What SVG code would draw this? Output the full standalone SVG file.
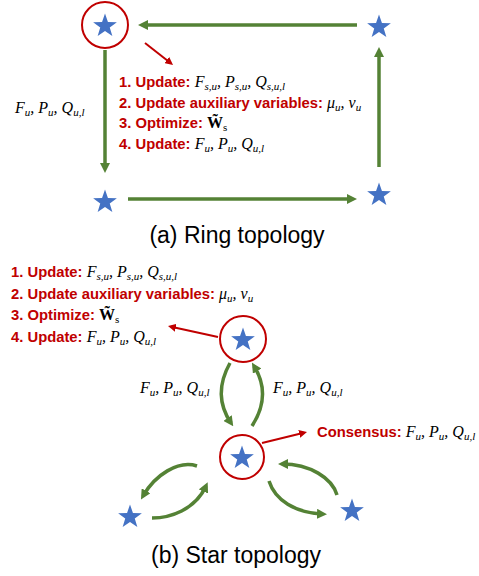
<svg xmlns="http://www.w3.org/2000/svg" xmlns:xlink="http://www.w3.org/1999/xlink" width="479" height="576" viewBox="0 0 479 576">
<style>
.g{fill:none;stroke:#548235;stroke-width:3.5}
.r{fill:none;stroke:#C00000;stroke-width:2}
.ring{fill:none;stroke:#C00000;stroke-width:2}
.star{fill:#4472C4}
.rb{font-family:"Liberation Sans",Arial,sans-serif;font-weight:bold;font-size:14.8px;fill:#C00000}
.mi{font-family:"Liberation Serif","DejaVu Serif",serif;font-style:italic;font-size:16px;fill:#000}
.sb{font-family:"Liberation Serif","DejaVu Serif",serif;font-style:italic;font-size:11px;fill:#000}
.wb{font-family:"Liberation Serif","DejaVu Serif",serif;font-weight:bold;font-size:16px;fill:#000}
.su{font-family:"Liberation Serif","DejaVu Serif",serif;font-size:11px;fill:#000}
.cap{font-family:"Liberation Sans",Arial,sans-serif;font-size:23px;fill:#000}
</style>
<defs>
<path id="st" d="M0,-12.5 L2.94,-4.05 L11.89,-3.86 L4.76,1.55 L7.35,10.11 L0,5 L-7.35,10.11 L-4.76,1.55 L-11.89,-3.86 L-2.94,-4.05 Z"/>
<marker id="ga" viewBox="0 0 10 10" refX="6" refY="5" markerWidth="10" markerHeight="10" markerUnits="userSpaceOnUse" orient="auto">
<path d="M0,0 L10,5 L0,10 Z" fill="#548235"/>
</marker>
<marker id="ra" viewBox="0 0 10 10" refX="6" refY="5" markerWidth="8" markerHeight="8" markerUnits="userSpaceOnUse" orient="auto">
<path d="M0,0 L10,5 L0,10 Z" fill="#C00000"/>
</marker>
</defs>

<!-- (a) Ring topology -->
<g id="ring-n1"><circle class="ring" cx="105" cy="25" r="23"/><use href="#st" x="105" y="26" class="star"/></g>
<g id="ring-n2"><use href="#st" x="379" y="27" class="star"/></g>
<g id="ring-n3"><use href="#st" x="105" y="202" class="star"/></g>
<g id="ring-n4"><use href="#st" x="379" y="195" class="star"/></g>

<g id="ring-connectors">
<path class="g" d="M357,25 L142,25" marker-end="url(#ga)"/>
<path class="g" d="M105,50 L105,169" marker-end="url(#ga)"/>
<path class="g" d="M379,167 L379,51" marker-end="url(#ga)"/>
<path class="g" d="M128,199 L353,199" marker-end="url(#ga)"/>
<path class="r" d="M145,43 L170.5,63" marker-end="url(#ra)"/>
</g>

<g id="ring-text">
<text x="119" y="87"><tspan class="rb">1. Update: </tspan><tspan class="mi">F</tspan><tspan class="sb" dy="3">s,u</tspan><tspan class="mi" dy="-3">, P</tspan><tspan class="sb" dy="3">s,u</tspan><tspan class="mi" dy="-3">, Q</tspan><tspan class="sb" dy="3">s,u,l</tspan></text>
<text x="119" y="107.5"><tspan class="rb">2. Update auxiliary variables: </tspan><tspan class="mi">μ</tspan><tspan class="sb" dy="3">u</tspan><tspan class="mi" dy="-3">, ν</tspan><tspan class="sb" dy="3">u</tspan></text>
<text x="119" y="128"><tspan class="rb">3. Optimize: </tspan><tspan class="wb">W̃</tspan><tspan class="su" dy="3">s</tspan></text>
<text x="119" y="148.5"><tspan class="rb">4. Update: </tspan><tspan class="mi">F</tspan><tspan class="sb" dy="3">u</tspan><tspan class="mi" dy="-3">, P</tspan><tspan class="sb" dy="3">u</tspan><tspan class="mi" dy="-3">, Q</tspan><tspan class="sb" dy="3">u,l</tspan></text>
<text x="15" y="113"><tspan class="mi">F</tspan><tspan class="sb" dy="3">u</tspan><tspan class="mi" dy="-3">, P</tspan><tspan class="sb" dy="3">u</tspan><tspan class="mi" dy="-3">, Q</tspan><tspan class="sb" dy="3">u,l</tspan></text>
<text class="cap" x="237" y="243" text-anchor="middle">(a) Ring topology</text>
</g>

<!-- (b) Star topology -->
<g id="star-top"><circle class="ring" cx="243" cy="339" r="23"/><use href="#st" x="243" y="340" class="star"/></g>
<g id="star-center"><circle class="ring" cx="242" cy="457" r="22"/><use href="#st" x="242" y="458" class="star"/></g>
<g id="star-left"><use href="#st" x="130" y="517" class="star"/></g>
<g id="star-right"><use href="#st" x="352" y="511" class="star"/></g>

<g id="star-connectors">
<path class="g" d="M230,363 Q212,395 231,423" marker-end="url(#ga)"/>
<path class="g" d="M252,426 Q272,395 254,366" marker-end="url(#ga)"/>
<path class="g" d="M197,466 C178,460 155,475 143,496" marker-end="url(#ga)"/>
<path class="g" d="M152,518 C170,518 195,510 206,486" marker-end="url(#ga)"/>
<path class="g" d="M337,495 C332,478 310,464 282,464" marker-end="url(#ga)"/>
<path class="g" d="M269,481 C275,500 295,513 323,514" marker-end="url(#ga)"/>
<path class="r" d="M218,337 L171.1,326.7" marker-end="url(#ra)"/>
<path class="r" d="M262,443 L303.9,432.8" marker-end="url(#ra)"/>
</g>

<g id="star-text">
<text x="11" y="277"><tspan class="rb">1. Update: </tspan><tspan class="mi">F</tspan><tspan class="sb" dy="3">s,u</tspan><tspan class="mi" dy="-3">, P</tspan><tspan class="sb" dy="3">s,u</tspan><tspan class="mi" dy="-3">, Q</tspan><tspan class="sb" dy="3">s,u,l</tspan></text>
<text x="11" y="298.5"><tspan class="rb">2. Update auxiliary variables: </tspan><tspan class="mi">μ</tspan><tspan class="sb" dy="3">u</tspan><tspan class="mi" dy="-3">, ν</tspan><tspan class="sb" dy="3">u</tspan></text>
<text x="11" y="320"><tspan class="rb">3. Optimize: </tspan><tspan class="wb">W̃</tspan><tspan class="su" dy="3">s</tspan></text>
<text x="11" y="341.5"><tspan class="rb">4. Update: </tspan><tspan class="mi">F</tspan><tspan class="sb" dy="3">u</tspan><tspan class="mi" dy="-3">, P</tspan><tspan class="sb" dy="3">u</tspan><tspan class="mi" dy="-3">, Q</tspan><tspan class="sb" dy="3">u,l</tspan></text>
<text x="140" y="393"><tspan class="mi">F</tspan><tspan class="sb" dy="3">u</tspan><tspan class="mi" dy="-3">, P</tspan><tspan class="sb" dy="3">u</tspan><tspan class="mi" dy="-3">, Q</tspan><tspan class="sb" dy="3">u,l</tspan></text>
<text x="273" y="393"><tspan class="mi">F</tspan><tspan class="sb" dy="3">u</tspan><tspan class="mi" dy="-3">, P</tspan><tspan class="sb" dy="3">u</tspan><tspan class="mi" dy="-3">, Q</tspan><tspan class="sb" dy="3">u,l</tspan></text>
<text x="317" y="437"><tspan class="rb">Consensus: </tspan><tspan class="mi">F</tspan><tspan class="sb" dy="3">u</tspan><tspan class="mi" dy="-3">, P</tspan><tspan class="sb" dy="3">u</tspan><tspan class="mi" dy="-3">, Q</tspan><tspan class="sb" dy="3">u,l</tspan></text>
<text class="cap" x="236" y="563" text-anchor="middle">(b) Star topology</text>
</g>
</svg>
